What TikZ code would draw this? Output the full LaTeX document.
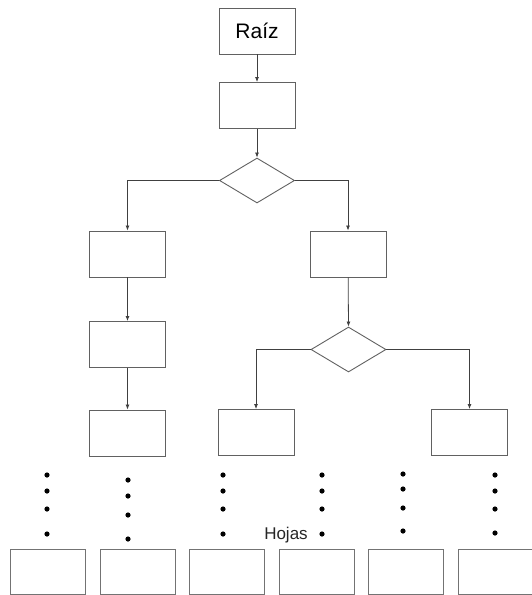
\documentclass[tikz,border=0pt]{standalone}
\usepackage{fontspec}
\setmainfont{Liberation Sans}
\usetikzlibrary{shapes.geometric,arrows.meta}
\begin{document}
\begin{tikzpicture}[x=1pt,y=-1pt,
  box/.style={draw=black!62,line width=0.9pt,rectangle,minimum width=76pt,minimum height=46pt,inner sep=0pt},
  leaf/.style={draw=black!55,line width=0.9pt,rectangle,minimum width=75pt,minimum height=45pt,inner sep=0pt},
  cond/.style={draw=black!62,line width=0.9pt,diamond,minimum width=75pt,minimum height=45pt,inner sep=0pt},
  link/.style={draw=black!75,line width=0.8pt,-{Latex[length=5pt,width=4pt]}},
  dot/.style={circle,fill=black,inner sep=0pt,minimum size=5.2pt}]
\useasboundingbox (0,0) rectangle (532,595);
% main trunk
\node[box] (root) at (257,31) {\fontsize{21pt}{23pt}\selectfont Raíz};
\node[box] (b2) at (257,105.5) {};
\node[cond] (d1) at (257,180.5) {};
% left branch
\node[box] (a1) at (127.5,254) {};
\node[box] (a2) at (127.5,344.5) {};
\node[box] (a3) at (127.5,433) {};
% right branch
\node[box] (r1) at (348,254) {};
\node[cond] (d2) at (348.5,349.5) {};
\node[box] (e1) at (256,432.5) {};
\node[box] (f1) at (469.5,432.5) {};
% connectors
\draw[link] (root) -- (b2);
\draw[link] (b2) -- (d1.north);
\draw[link] (d1.west) -| (a1.north);
\draw[link] (d1.east) -| (r1.north);
\draw[link] (a1) -- (a2);
\draw[link] (a2) -- (a3);
\draw[link] (r1) -- (d2.north);
\draw[link] (d2.west) -| (e1.north);
\draw[link] (d2.east) -| (f1.north);
% leaf row
\foreach \i/\x in {1/47.5,2/137.5,3/226.5,4/316.5,5/406,6/496}
  \node[leaf] (leaf\i) at (\x,571.5) {};
% ellipsis dots above the leaves
\foreach \c/\x/\ya/\yb/\yc/\yd in {1/47/475/491/509/534, 2/128/480/496/515/539, 3/223/475/491/509/534, 4/322/475/491/509/534, 5/403/474/489/508/531, 6/495/475/491/509/533}{
  \node[dot] (p\c a) at (\x,\ya) {};
  \node[dot] (p\c b) at (\x,\yb) {};
  \node[dot] (p\c c) at (\x,\yc) {};
  \node[dot] (p\c d) at (\x,\yd) {};
}
\node[text=black!85] (hojas) at (286,535) {\fontsize{17pt}{19pt}\selectfont Hojas};
\end{tikzpicture}
\end{document}
